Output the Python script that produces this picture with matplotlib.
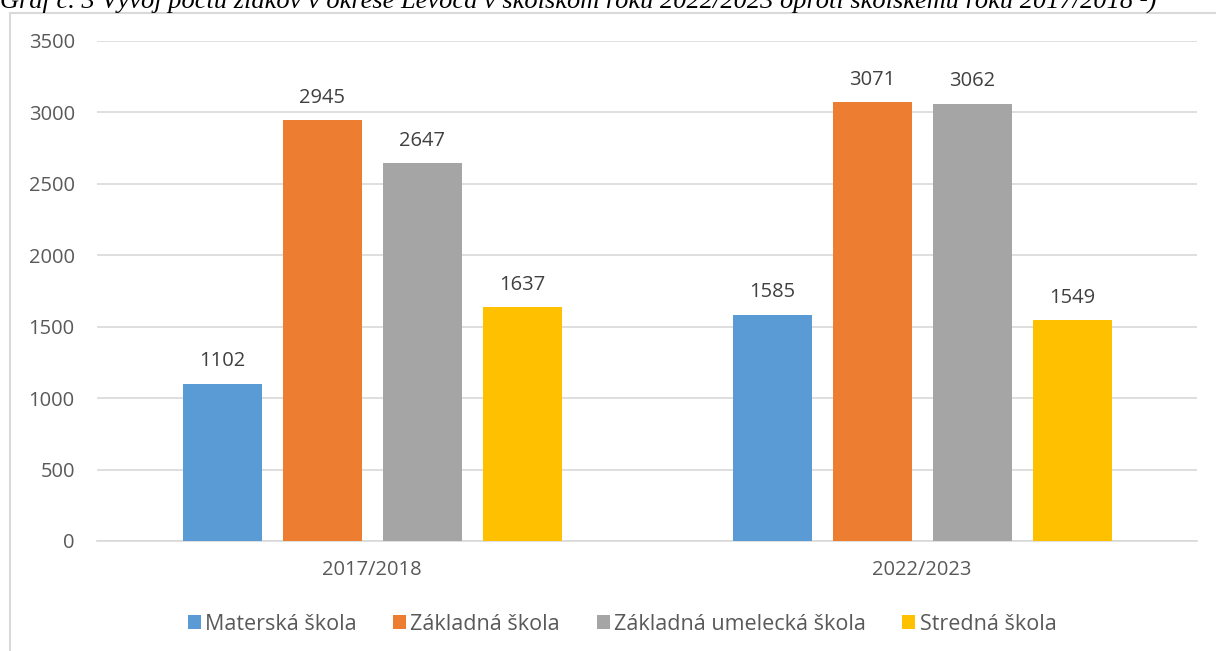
import matplotlib
matplotlib.use("Agg")
import matplotlib.pyplot as plt
import numpy as np
from matplotlib.patches import Rectangle, Patch

categories = ["2017/2018", "2022/2023"]
series = ["Materská škola", "Základná škola", "Základná umelecká škola", "Stredná škola"]
values = {
    "Materská škola": [1102, 1585],
    "Základná škola": [2945, 3071],
    "Základná umelecká škola": [2647, 3062],
    "Stredná škola": [1637, 1549],
}
colors = ["#5B9BD5", "#ED7D31", "#A5A5A5", "#FFC000"]
yticks = [0, 500, 1000, 1500, 2000, 2500, 3000, 3500]
title = "Graf č. 3 Vývoj počtu žiakov v okrese Levoča v školskom roku 2022/2023 oproti školskému roku 2017/2018 ²)"

plt.rcParams['font.family'] = ['Open Sans', 'DejaVu Sans']

W, H = 1216, 651
fig = plt.figure(figsize=(W / 100, H / 100), dpi=100)

# outer chart frame
fig.patches.append(Rectangle((10 / W, -0.05), 1.2, 1 - 13 / H + 0.05, transform=fig.transFigure,
                             fill=False, edgecolor="#D9D9D9", linewidth=1.5))

# caption (cut off at the top edge, as in the reference)
fig.text(0.0, 1 - 8 / H, title, family=['Liberation Serif', 'DejaVu Serif'], style='italic',
         fontsize=19, color="#000000", ha='left', va='baseline')

ax = fig.add_axes([97 / W, 1 - 541 / H, 1100 / W, 500 / H])
x = np.arange(len(categories))
pitch = 100 / 550
bw = 79 / 550
for i, (s, c) in enumerate(zip(series, colors)):
    pos = x + (i - 1.5) * pitch
    bars = ax.bar(pos, values[s], width=bw, color=c, zorder=3)
    for b, v in zip(bars, values[s]):
        ax.text(b.get_x() + b.get_width() / 2, v + 85, f"{v}", ha='center', va='bottom',
                fontsize=14.5, color="#404040")

ax.set_xlim(-0.5, 1.5)
ax.set_ylim(0, 3500)
ax.set_yticks(yticks)
ax.set_yticklabels([str(t) for t in yticks], fontsize=14.5, color="#595959")
ax.set_xticks(x)
ax.set_xticklabels(categories, fontsize=14.5, color="#595959")
ax.tick_params(axis='both', length=0)
ax.tick_params(axis='y', pad=16)
ax.tick_params(axis='x', pad=14)
ax.grid(axis='y', color="#D9D9D9", linewidth=1.2, zorder=0)
for sp in ["top", "right", "left"]:
    ax.spines[sp].set_visible(False)
ax.spines["bottom"].set_color("#D9D9D9")
ax.spines["bottom"].set_linewidth(1.2)

handles = [Patch(facecolor=c, label=s) for s, c in zip(series, colors)]
fig.legend(handles=handles, loc='center', bbox_to_anchor=(622 / W, 1 - 624 / H), ncol=4,
           frameon=False, fontsize=15.5, handlelength=0.6, handleheight=0.6,
           handletextpad=0.2, columnspacing=1.7, labelcolor="#595959")

fig.savefig("out.png", dpi=100)
